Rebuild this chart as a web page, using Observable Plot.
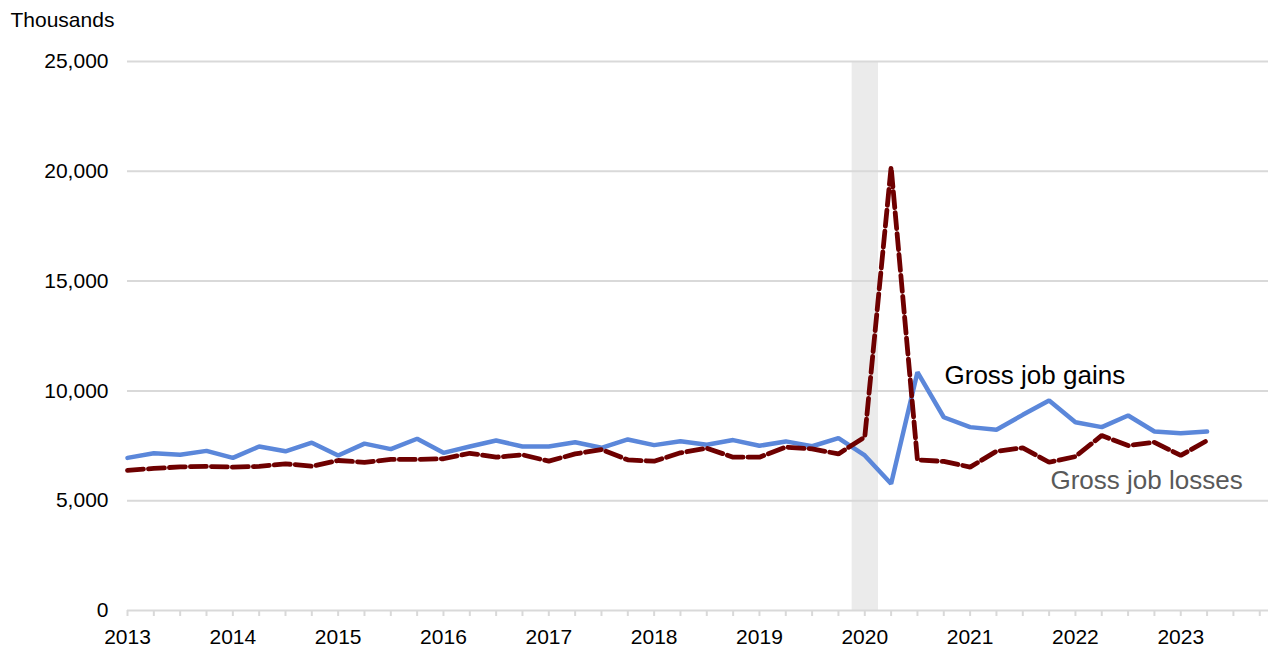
<!DOCTYPE html>
<html>
<head>
<meta charset="utf-8">
<script src="https://cdn.jsdelivr.net/npm/d3@7"></script>
<script src="https://cdn.jsdelivr.net/npm/@observablehq/plot@0.6"></script>
<style>
  html, body { margin: 0; padding: 0; background: #fff; }
</style>
</head>
<body>
<div id="chart"></div>
<script>
// Quarters 2013 Q1 – 2023 Q2
const quarterLabels = [];
for (let y = 2013; y <= 2023; y++) for (let q = 1; q <= 4; q++) quarterLabels.push(`${y} Q${q}`);
const quarters = quarterLabels.slice(0, 42);

// Gross job gains (thousands)
const gains = [6950, 7160, 7090, 7270, 6950, 7470, 7250, 7640, 7060, 7600, 7350, 7820,
  7180, 7470, 7740, 7470, 7470, 7660, 7410, 7790, 7530, 7710, 7550, 7760,
  7500, 7700, 7480, 7850, 7060, 5770, 10850, 8800, 8350, 8230, 8910, 9560,
  8570, 8350, 8880, 8150, 8070, 8150];

// Gross job losses (thousands)
const losses = [6380, 6470, 6540, 6560, 6530, 6560, 6680, 6570, 6830, 6750, 6880, 6880,
  6910, 7160, 6980, 7090, 6800, 7130, 7330, 6860, 6800, 7180, 7390, 6980,
  6980, 7440, 7360, 7130, 7900, 20190, 6860, 6790, 6530, 7250, 7410, 6750,
  7010, 7970, 7510, 7660, 7060, 7740];

const yearTicks = [2013, 2014, 2015, 2016, 2017, 2018, 2019, 2020, 2021, 2022, 2023];
const yTicks = [0, 5000, 10000, 15000, 20000, 25000];
const recession = [{start: 2019.88, end: 2020.13}];

// table from the arrays
const toT = (label) => {
  const [y, q] = label.split(" Q");
  return +y + (+q - 1) / 4;
};
const data = quarters.map((label, i) => ({t: toT(label), gains: gains[i], losses: losses[i]}));
const quarterTicks = quarterLabels.map(toT);

const chart = Plot.plot({
  width: 1269,
  height: 647,
  marginLeft: 127,
  marginRight: 1,
  marginTop: 61,
  marginBottom: 37,
  style: {fontFamily: "'Liberation Sans', Arial, sans-serif", fontSize: "21px", color: "#000", background: "#fff"},
  x: {type: "linear", domain: [2013, 2023.833], axis: null},
  y: {domain: [0, 25000], axis: null},
  marks: [
    Plot.rect(recession, {x1: "start", x2: "end", y1: 0, y2: 25000, fill: "#ebebeb"}),
    Plot.gridY(yTicks.filter(d => d > 0), {stroke: "#d9d9d9", strokeOpacity: 1, strokeWidth: 2}),
    Plot.ruleY([0], {stroke: "#d9d9d9", strokeWidth: 2}),
    Plot.axisX({ticks: quarterTicks, tickSize: 6, tickFormat: () => "", stroke: "#d9d9d9", strokeWidth: 2, strokeOpacity: 1, label: null}),
    Plot.axisX({ticks: yearTicks, tickSize: 0, tickPadding: 19, tickFormat: d => String(d), fontSize: 21, fill: "#000", label: null}),
    Plot.axisY({ticks: yTicks, tickSize: 0, tickPadding: 19, tickFormat: d3.format(","), fontSize: 21, fill: "#000", label: null}),
    Plot.line(data, {x: "t", y: "gains", stroke: "#5b87da", strokeWidth: 4.5, strokeLinejoin: "miter"}),
    Plot.line(data, {x: "t", y: "losses", stroke: "#6e0000", strokeWidth: 4.8, strokeDasharray: "16,5", strokeLinejoin: "miter"}),
    Plot.text(["Gross job gains"], {x: 2020.757, y: 10715, textAnchor: "start", lineAnchor: "middle", fontSize: 26, fill: "#000"}),
    Plot.text(["Gross job losses"], {x: 2021.763, y: 5897, textAnchor: "start", lineAnchor: "middle", fontSize: 26, fill: "#595959"}),
    Plot.text(["Thousands"], {frameAnchor: "top-left", dx: -117, dy: -49.5, textAnchor: "start", lineAnchor: "top", fontSize: 21, fill: "#000"})
  ]
});
document.getElementById("chart").appendChild(chart);
</script>
</body>
</html>
